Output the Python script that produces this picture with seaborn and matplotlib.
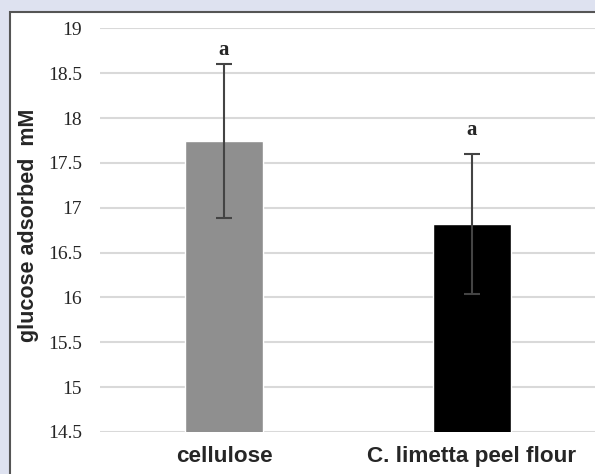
import numpy as np
import pandas as pd
import matplotlib
matplotlib.use('Agg')
import matplotlib.pyplot as plt
import seaborn as sns
from matplotlib.patches import Rectangle

# values
samples = ['cellulose', 'C. limetta peel flour']
glucose = [17.74, 16.82]
glucose_err = [0.86, 0.78]
letters = ['a', 'a']
bar_colors = ['#8f8f8f', '#000000']
yticks = [14.5, 15, 15.5, 16, 16.5, 17, 17.5, 18, 18.5, 19]

SERIF = ['Liberation Serif', 'DejaVu Serif']
SANS = ['Liberation Sans', 'DejaVu Sans']

sns.set_theme(style='white')
plt.rcParams['font.family'] = SERIF

W, H = 595, 474
fig = plt.figure(figsize=(W / 100, H / 100), dpi=100)
fig.patch.set_facecolor('#dee2f0')

# white frame that runs off the right and bottom edge
fig.patches.append(Rectangle((10 / W, -0.1), 1.2, 1 - 12 / H + 0.1,
                             transform=fig.transFigure, facecolor='white',
                             edgecolor='#555555', linewidth=1.5, zorder=-1))

ax = fig.add_axes([100 / W, 1 - 432 / H, 496 / W, (432 - 28.3) / H])
ax.set_zorder(1)
ax.set_facecolor('none')

df = pd.DataFrame({'sample': samples, 'glucose': glucose})
sns.barplot(data=df, x='sample', y='glucose', hue='sample', palette=bar_colors,
            width=0.315, errorbar=None, legend=False, saturation=1, ax=ax, zorder=3)

ax.errorbar(np.arange(len(samples)), glucose, yerr=glucose_err, fmt='none',
            ecolor='#444444', elinewidth=1.5, capsize=6, capthick=1.5, zorder=4)

# significance letters
for i, (m, e, lt) in enumerate(zip(glucose, glucose_err, letters)):
    ax.annotate(lt, xy=(i, m + e), xytext=(0, 10 + 7 * i), textcoords='offset points',
                ha='center', va='center', fontsize=15, fontweight='bold',
                family=SERIF, zorder=5)

ax.set_ylim(14.5, 19)
ax.set_xlim(-0.5, 1.5)
ax.set_yticks(yticks)
ax.set_yticklabels([f'{t:g}' for t in yticks], fontsize=14, family=SERIF)
ax.yaxis.grid(True, color='#d9d9d9', linewidth=1.5, zorder=0)
ax.set_axisbelow(True)
for s in ax.spines.values():
    s.set_visible(False)
ax.tick_params(axis='y', length=0, pad=13)
ax.tick_params(axis='x', length=0, pad=10)

for lab in ax.get_xticklabels():
    lab.set_family(SANS)
    lab.set_fontweight('bold')
    lab.set_fontsize(16.2)

ax.set_xlabel('')
ax.set_ylabel('glucose adsorbed  mM', fontsize=15.5, fontweight='bold', family=SANS)
ax.yaxis.set_label_coords(-61 / 496, 0.513)

fig.savefig('out.png', dpi=100, facecolor=fig.get_facecolor())
